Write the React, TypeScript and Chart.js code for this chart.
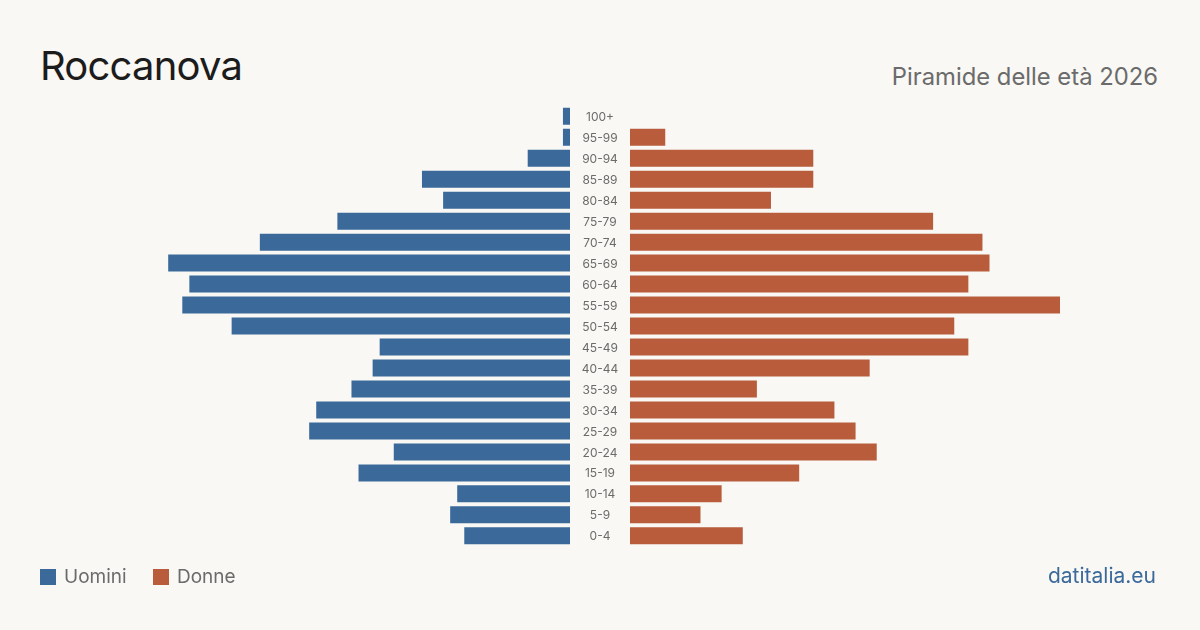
import React, { useEffect, useRef } from "react";
import { Chart, registerables } from "chart.js";

Chart.register(...registerables);

// Age classes, top (oldest) to bottom (youngest)
const ageGroups = [
  "100+", "95-99", "90-94", "85-89", "80-84", "75-79", "70-74", "65-69",
  "60-64", "55-59", "50-54", "45-49", "40-44", "35-39", "30-34", "25-29",
  "20-24", "15-19", "10-14", "5-9", "0-4",
];

// Residents per age class
const men = [1, 1, 6, 21, 18, 33, 44, 57, 54, 55, 48, 27, 28, 31, 36, 37, 25, 30, 16, 17, 15];
const women = [0, 5, 26, 26, 20, 43, 50, 51, 48, 61, 46, 48, 34, 18, 29, 32, 35, 24, 13, 10, 16];

const BLUE = "#3b6a9a";
const ORANGE = "#b85c3c";
const BG = "#f9f8f4";
const FONT = "Inter, 'Noto Sans', sans-serif";

const W = 1200;
const H = 630;
const xMax = Math.max(...men, ...women);

// Centre column with the age-class labels
const ageLabelPlugin = {
  id: "ageLabels",
  afterDraw(chart: Chart) {
    const { ctx } = chart;
    const yScale = chart.scales.y;
    ctx.save();
    ctx.font = `12px ${FONT}`;
    ctx.fillStyle = "#6b6b6b";
    ctx.textAlign = "center";
    ctx.textBaseline = "middle";
    ageGroups.forEach((label, i) => {
      ctx.fillText(label, 600, yScale.getPixelForValue(i) + 1);
    });
    ctx.restore();
  },
};

function makeChart(
  canvas: HTMLCanvasElement,
  values: number[],
  color: string,
  side: "left" | "right",
) {
  const padding =
    side === "left"
      ? { left: 140, right: 630, top: 105.8, bottom: 83.7 }
      : { left: 630, right: 140, top: 105.8, bottom: 83.7 };
  return new Chart(canvas, {
    type: "bar",
    data: {
      labels: ageGroups,
      datasets: [
        {
          data: values,
          backgroundColor: color,
          borderWidth: 0,
          inflateAmount: 0,
          barThickness: 17,
        },
      ],
    },
    options: {
      indexAxis: "y",
      animation: false,
      responsive: false,
      maintainAspectRatio: false,
      devicePixelRatio: 1,
      layout: { padding },
      plugins: {
        legend: { display: false },
        tooltip: { enabled: false },
        title: { display: false },
      },
      scales: {
        x: {
          display: false,
          min: 0,
          max: xMax,
          reverse: side === "left",
        },
        y: { display: false },
      },
    },
    plugins: side === "right" ? [ageLabelPlugin] : [],
  });
}

export default function App() {
  const leftRef = useRef<HTMLCanvasElement>(null);
  const rightRef = useRef<HTMLCanvasElement>(null);

  useEffect(() => {
    const left = makeChart(leftRef.current!, men, BLUE, "left");
    const right = makeChart(rightRef.current!, women, ORANGE, "right");
    return () => {
      left.destroy();
      right.destroy();
    };
  }, []);

  const canvasStyle: React.CSSProperties = {
    position: "absolute",
    left: 0,
    top: 0,
    width: W,
    height: H,
  };

  const legendItem = (color: string, label: string, left: number) => (
    <div
      style={{
        position: "absolute",
        left,
        top: 568,
        display: "flex",
        alignItems: "center",
        height: 17,
      }}
    >
      <div style={{ width: 16, height: 16, background: color, marginRight: 8 }} />
      <span style={{ fontSize: 19, color: "#6b6b6b", lineHeight: "17px" }}>{label}</span>
    </div>
  );

  return (
    <div
      style={{
        position: "absolute",
        left: 0,
        top: 0,
        width: W,
        height: H,
        background: BG,
        fontFamily: FONT,
        overflow: "hidden",
      }}
    >
      <div
        style={{
          position: "absolute",
          left: 40,
          top: 42,
          fontSize: 40,
          lineHeight: "48px",
          color: "#1c1c1c",
          letterSpacing: -0.8,
        }}
      >
        Roccanova
      </div>
      <div
        style={{
          position: "absolute",
          right: 42,
          top: 63,
          fontSize: 23.8,
          lineHeight: "28px",
          color: "#6b6b6b",
        }}
      >
        Piramide delle età 2026
      </div>
      <canvas ref={leftRef} width={W} height={H} style={canvasStyle} />
      <canvas ref={rightRef} width={W} height={H} style={canvasStyle} />
      {legendItem(BLUE, "Uomini", 40)}
      {legendItem(ORANGE, "Donne", 153)}
      <div
        style={{
          position: "absolute",
          right: 44,
          top: 563,
          fontSize: 21,
          lineHeight: "26px",
          color: BLUE,
        }}
      >
        datitalia.eu
      </div>
    </div>
  );
}
